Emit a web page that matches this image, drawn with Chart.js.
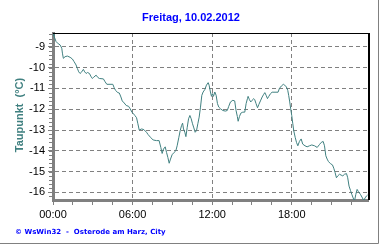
<!DOCTYPE html>
<html><head><meta charset="utf-8">
<script src="https://cdn.jsdelivr.net/npm/chart.js@4"></script>
<style>html,body{margin:0;padding:0;background:#fff;}#wrap{width:380px;height:245px;position:relative;}</style>
</head><body><div id="wrap"><canvas id="c" width="380" height="245"></canvas></div>
<script>
const titleText = "Freitag, 10.02.2012";
const yAxisTitle = "Taupunkt  (°C)";
const footerText = "© WsWin32  -  Osterode am Harz, City";
const xTickLabels = ["00:00", "06:00", "12:00", "18:00"];
const hours = [0.0,0.07,0.23,0.4,0.53,0.66,0.71,0.78,0.91,1.08,1.29,1.46,1.59,1.74,1.84,1.94,2.04,2.17,2.29,2.39,2.5,2.6,2.75,2.85,2.97,3.05,3.25,3.38,3.5,3.8,3.93,4.06,4.51,4.61,4.71,4.89,5.0,5.12,5.22,5.37,5.52,5.7,5.82,5.95,6.07,6.17,6.3,6.4,6.5,6.68,6.85,7.05,7.17,7.35,7.55,7.8,8.0,8.13,8.23,8.33,8.46,8.56,8.66,8.76,8.86,8.98,9.13,9.26,9.36,9.49,9.59,9.69,9.77,9.84,9.94,10.02,10.12,10.22,10.32,10.42,10.52,10.62,10.72,10.82,10.92,11.02,11.12,11.22,11.32,11.45,11.57,11.7,11.77,11.87,11.95,12.02,12.1,12.2,12.3,12.4,12.5,12.63,12.8,13.0,13.14,13.25,13.38,13.56,13.7,13.8,13.9,13.96,14.06,14.16,14.31,14.46,14.56,14.66,14.71,14.81,14.91,15.01,15.14,15.21,15.31,15.42,15.52,15.64,15.77,15.89,15.97,16.07,16.17,16.27,16.4,16.52,16.97,17.07,17.22,17.37,17.47,17.6,17.7,17.77,17.85,17.92,18.0,18.08,18.15,18.26,18.36,18.46,18.58,18.71,18.83,19.0,19.16,19.34,19.51,19.72,19.92,20.09,20.22,20.37,20.47,20.57,20.67,20.77,20.92,21.07,21.17,21.27,21.37,21.47,21.6,21.72,21.85,21.98,22.13,22.22,22.32,22.43,22.53,22.63,22.73,22.83,22.93,23.03,23.18,23.33,23.43,23.53,23.63,23.72];
const dewPoint = [-8.34,-8.47,-8.74,-8.85,-8.9,-9.06,-9.3,-9.55,-9.47,-9.44,-9.5,-9.58,-9.71,-9.87,-10.04,-10.2,-10.28,-10.2,-10.08,-10.2,-10.28,-10.23,-10.28,-10.41,-10.52,-10.47,-10.36,-10.47,-10.52,-10.54,-10.68,-10.8,-10.8,-10.96,-11.09,-11.2,-11.22,-11.41,-11.6,-11.7,-11.82,-11.86,-11.98,-12.14,-12.22,-12.3,-12.41,-12.7,-13.0,-12.95,-12.98,-13.11,-13.22,-13.35,-13.48,-13.51,-13.51,-13.84,-14.13,-13.92,-13.81,-14.08,-14.32,-14.6,-14.4,-14.19,-14.08,-14.0,-13.76,-13.35,-13.03,-12.79,-12.67,-12.95,-13.11,-13.32,-12.87,-12.46,-12.3,-12.46,-12.7,-12.9,-13.11,-13.03,-12.7,-12.38,-11.9,-11.33,-11.17,-11.05,-10.84,-10.72,-10.84,-11.17,-11.38,-11.25,-11.38,-11.17,-11.33,-11.73,-11.9,-11.98,-12.06,-12.09,-12.06,-11.86,-11.65,-11.57,-11.6,-12.06,-12.35,-12.58,-12.35,-12.19,-12.14,-12.14,-11.73,-11.49,-11.38,-11.54,-11.65,-11.57,-11.49,-11.54,-11.73,-11.93,-11.77,-11.6,-11.41,-11.28,-11.2,-11.33,-11.49,-11.38,-11.25,-11.18,-11.18,-11.0,-10.88,-10.8,-10.84,-10.93,-11.09,-11.33,-11.65,-11.98,-12.3,-12.7,-13.03,-13.35,-13.6,-13.76,-13.55,-13.43,-13.68,-13.76,-13.81,-13.76,-13.72,-13.76,-13.84,-13.7,-13.6,-13.55,-13.76,-14.24,-14.4,-14.52,-14.62,-14.68,-14.84,-15.05,-15.3,-15.21,-15.13,-15.17,-15.21,-15.13,-15.1,-15.3,-15.7,-15.91,-16.1,-16.27,-16.43,-16.1,-15.86,-15.97,-16.1,-16.27,-16.4,-16.27,-16.18,-16.13];
const yTickValues = [-9,-10,-11,-12,-13,-14,-15,-16];

const GRID = '#808080';
const TEAL = '#408080';
const points = hours.map((h, i) => ({x: h, y: dewPoint[i]}));

const decor = {
  id: 'decor',
  afterDatasetsDraw(chart) {
    const {ctx, chartArea: a} = chart;
    ctx.save();
    // frame top and right
    ctx.strokeStyle = '#000';
    ctx.lineWidth = 1;
    ctx.beginPath();
    ctx.moveTo(a.left, a.top + 0.5); ctx.lineTo(a.right, a.top + 0.5);
    ctx.stroke();
    ctx.lineWidth = 2;
    ctx.beginPath();
    ctx.moveTo(a.right + 1, a.top); ctx.lineTo(a.right + 1, a.bottom);
    ctx.stroke();
    // minor ticks on y axis
    const ys = chart.scales.y;
    ctx.strokeStyle = GRID; ctx.lineWidth = 1;
    ctx.beginPath();
    for (let v = -16.2; v <= -8.4; v += 0.2) {
      const p = Math.round(ys.getPixelForValue(v)) + 0.5;
      ctx.moveTo(a.left - 4, p); ctx.lineTo(a.left - 1, p);
    }
    ctx.stroke();
    ctx.restore();
  },
  afterDraw(chart) {
    const {ctx} = chart;
    ctx.save();
    ctx.fillStyle = '#0000ff';
    ctx.font = 'bold 11px "Liberation Sans", Arial, sans-serif';
    ctx.textAlign = 'center'; ctx.textBaseline = 'middle';
    ctx.fillText(titleText, 191, 18);
    ctx.translate(20, 115); ctx.rotate(-Math.PI / 2);
    ctx.fillStyle = TEAL;
    ctx.fillText(yAxisTitle, 0, 0);
    ctx.setTransform(1, 0, 0, 1, 0, 0);
    ctx.fillStyle = '#0000ff';
    ctx.font = 'bold 7px "DejaVu Sans", sans-serif';
    ctx.textAlign = 'left';
    ctx.fillText(footerText, 15, 232);
    // outer edge lines
    ctx.strokeStyle = '#808080'; ctx.lineWidth = 1;
    ctx.beginPath();
    ctx.moveTo(378.5, 0); ctx.lineTo(378.5, 243.5); ctx.lineTo(0, 243.5);
    ctx.stroke();
    ctx.restore();
  }
};

new Chart(document.getElementById('c'), {
  type: 'line',
  data: { datasets: [{ data: points, borderColor: TEAL, borderWidth: 1, pointRadius: 0, tension: 0, fill: false }] },
  options: {
    responsive: false, animation: false, devicePixelRatio: 1,
    layout: { padding: { left: 0, right: 12, top: 33, bottom: 0 } },
    plugins: { legend: { display: false }, tooltip: { enabled: false }, title: { display: false } },
    scales: {
      x: {
        type: 'linear', min: 0, max: 23.75,
        afterFit(s) { s.height = 45; },
        afterBuildTicks(s) { s.ticks = [0,1.5,3,4.5,6,7.5,9,10.5,12,13.5,15,16.5,18,19.5,21,22.5].map(v => ({value: v})); },
        ticks: { autoSkip: false, maxRotation: 0, padding: 3, color: '#000',
          font: { family: '"Liberation Sans", Arial, sans-serif', size: 11 },
          callback: (v) => (v % 6 === 0 ? xTickLabels[v / 6] : '') },
        grid: { color: (c) => (c.tick && c.tick.value > 0 && c.tick.value % 6 === 0 ? GRID : 'rgba(0,0,0,0)'),
          tickColor: GRID, tickLength: 5, lineWidth: 1 },
        border: { display: true, color: GRID, width: 3, dash: [4, 3] }
      },
      y: {
        type: 'linear', min: -16.37, max: -8.33,
        afterFit(s) { s.width = 53; },
        afterBuildTicks(s) { s.ticks = yTickValues.map(v => ({value: v})); },
        ticks: { autoSkip: false, padding: 3, color: '#000',
          font: { family: '"Liberation Sans", Arial, sans-serif', size: 11 } },
        grid: { color: GRID, tickColor: GRID, tickLength: 5, lineWidth: 1 },
        border: { display: true, color: GRID, width: 3, dash: [4, 3] }
      }
    }
  },
  plugins: [decor]
});
</script></body></html>
